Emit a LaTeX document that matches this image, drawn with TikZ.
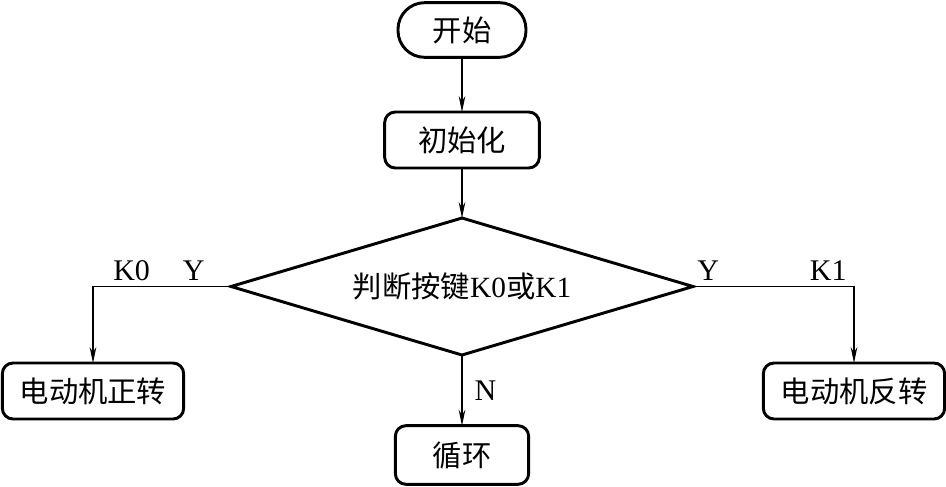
\documentclass[tikz,border=0pt]{standalone}
\usepackage{fontspec}
\setmainfont{Liberation Serif}
\newfontfamily\cjk{Noto Sans CJK SC}
\usetikzlibrary{arrows.meta,positioning,shapes.geometric}

\begin{document}
\begin{tikzpicture}[
  x=0.75pt, y=-0.75pt,
  font=\fontsize{22}{26}\selectfont,
  term/.style={draw, line width=2.2pt, rounded corners=20pt, align=center, minimum width=96pt, minimum height=41pt, inner sep=0pt, outer sep=0pt, font=\fontsize{22}{26}\selectfont\cjk},
  stepbox/.style={draw, line width=2.2pt, rounded corners=8pt, align=center, minimum height=42pt, inner sep=0pt, outer sep=0pt, font=\fontsize{22}{26}\selectfont\cjk},
  decide/.style={draw, diamond, line width=2.2pt, aspect=3.37, minimum width=346.5pt, minimum height=102.75pt, inner sep=0pt, outer sep=0pt},
  arrow/.style={-{Stealth[length=12pt, width=5pt, inset=4pt]}, line width=0.9pt},
  lbl/.style={font=\fontsize{22.5}{26}\selectfont, inner sep=1pt}
]
\useasboundingbox (0,0) rectangle (946,486);

\node[term] (start) at (462,30) {开始};
\node[stepbox, minimum width=116pt, below=41pt of start] (init) {初始化};
\node[decide, below=37.5pt of init] (judge) {{\cjk 判断按键}K0{\cjk 或}K1};
\node[stepbox, minimum width=100pt, minimum height=44pt, below=53pt of judge] (loop) {循环};
\node[stepbox, minimum width=136pt] (fwd) at (93,391) {电动机正转};
\node[stepbox, minimum width=136pt] (rev) at (854,391) {电动机反转};

\draw[arrow] (start) -- (init);
\draw[arrow] (init) -- (judge);
\draw[arrow] (judge.west) -| node[lbl, above=3pt, pos=0.135] {Y} node[lbl, above=3pt, pos=0.36] {K0} (fwd.north);
\draw[arrow] (judge.east) -| node[lbl, above=3pt, pos=0.047] {Y} node[lbl, above=3pt, pos=0.42] {K1} (rev.north);
\draw[arrow] (judge) -- node[lbl, right=8pt] {N} (loop);

\end{tikzpicture}
\end{document}
